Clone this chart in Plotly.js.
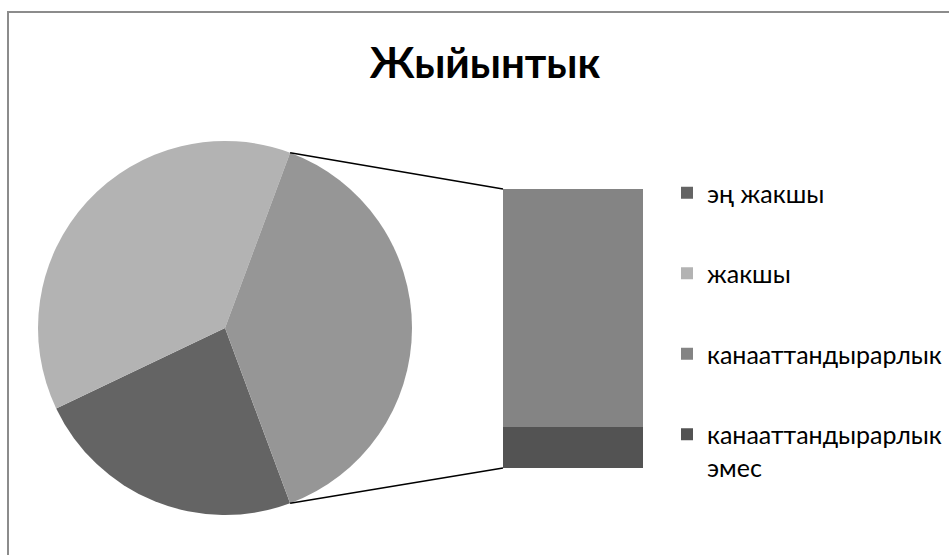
<!DOCTYPE html>
<html>
<head>
<meta charset="utf-8">
<script src="https://cdn.plot.ly/plotly-3.0.1.min.js"></script>
<style>
html,body{margin:0;padding:0;background:#fff;}
#chart{width:949px;height:555px;}
</style>
</head>
<body>
<div id="chart"></div>
<script>
// ---- data ----
const pieLabels = ['эң жакшы', 'жакшы'];
const pieValues = [25, 40];
const barLabels = ['канааттандырарлык', 'канааттандырарлык<br>эмес'];
const barValues = [35, 6];
const titleText = 'Жыйынтык';

// ---- styles ----
const pieColors = ['#646464', '#b3b3b3'];
const otherColor = '#969696';
const barColors = ['#848484', '#535353'];
const FONT = 'Lato, "Liberation Sans", sans-serif';

const W = 949, H = 555;
// layout geometry (pixels)
const pieBox = {x0: 38, x1: 412, y0: 141, y1: 515};
const barBox = {x0: 503, x1: 643, y0: 189, y1: 468};

const otherTotal = barValues.reduce((a, b) => a + b, 0);
const total = pieValues.reduce((a, b) => a + b, 0) + otherTotal;
const otherHalf = otherTotal / total * 180;   // half-angle of the "other" slice
const rotation = 90 + otherHalf;               // first slice starts right after "other"

const px = v => v / W;
const py = v => 1 - v / H;

const cx = (pieBox.x0 + pieBox.x1) / 2, cy = (pieBox.y0 + pieBox.y1) / 2;
const r = Math.min(pieBox.x1 - pieBox.x0, pieBox.y1 - pieBox.y0) / 2;
function edge(angDeg) {
  const a = angDeg * Math.PI / 180;
  return [cx + r * Math.sin(a), cy - r * Math.cos(a)];
}
const pTop = edge(90 - otherHalf);
const pBot = edge(90 + otherHalf);

const traces = [];
traces.push({
  type: 'pie',
  labels: pieLabels.concat(['other']),
  values: pieValues.concat([otherTotal]),
  marker: {colors: pieColors.concat([otherColor]), line: {width: 0}},
  sort: false,
  direction: 'clockwise',
  rotation: rotation,
  textinfo: 'none',
  hoverinfo: 'label+value',
  showlegend: false,
  domain: {x: [px(pieBox.x0), px(pieBox.x1)], y: [py(pieBox.y1), py(pieBox.y0)]}
});
// legend entries for pie categories (no drawn bar)
pieLabels.forEach((lab, i) => {
  traces.push({
    type: 'bar', x: [0], y: [null], name: lab,
    marker: {color: pieColors[i], line: {width: 0}},
    width: 1,
    legendgroup: 'p' + i, legendrank: i + 1,
    hoverinfo: 'skip',
    xaxis: 'x', yaxis: 'y'
  });
});
// stacked bar: bottom first
[1, 0].forEach(i => {
  traces.push({
    type: 'bar', x: [0], y: [barValues[i]], name: barLabels[i],
    marker: {color: barColors[i], line: {width: 0}},
    width: 1,
    legendgroup: 'b' + i, legendrank: 10 + i,
    hoverinfo: 'y',
    xaxis: 'x', yaxis: 'y'
  });
});

const lineStyle = {color: '#000', width: 1.6};
const layout = {
  width: W, height: H,
  margin: {l: 0, r: 0, t: 0, b: 0},
  paper_bgcolor: '#fff', plot_bgcolor: 'rgba(0,0,0,0)',
  font: {family: FONT, color: '#000'},
  title: {
    text: '<b>' + titleText + '</b>',
    font: {family: FONT, size: 42, color: '#000'},
    x: px(485), xref: 'paper', xanchor: 'center',
    y: py(63), yref: 'paper', yanchor: 'middle'
  },
  barmode: 'stack',
  bargap: 0,
  xaxis: {domain: [px(barBox.x0), px(barBox.x1)], range: [-0.5, 0.5], visible: false, fixedrange: true},
  yaxis: {domain: [py(barBox.y1), py(barBox.y0)], range: [0, otherTotal], visible: false, fixedrange: true},
  showlegend: true,
  legend: {
    x: px(667), xanchor: 'left',
    y: py(170), yanchor: 'top',
    traceorder: 'grouped',
    tracegroupgap: 45,
    valign: 'top',
    font: {family: FONT, size: 25, color: '#000'},
    bgcolor: 'rgba(0,0,0,0)'
  },
  shapes: [
    {type: 'line', xref: 'paper', yref: 'paper', x0: px(pTop[0]), y0: py(pTop[1]), x1: px(barBox.x0), y1: py(barBox.y0), line: lineStyle},
    {type: 'line', xref: 'paper', yref: 'paper', x0: px(pBot[0]), y0: py(pBot[1]), x1: px(barBox.x0), y1: py(barBox.y1), line: lineStyle},
    {type: 'rect', xref: 'paper', yref: 'paper', x0: px(8), y0: py(12), x1: px(990), y1: py(600), line: {color: '#8c8c8c', width: 2}, fillcolor: 'rgba(0,0,0,0)', layer: 'below'}
  ]
};

Plotly.newPlot('chart', traces, layout, {displayModeBar: false, staticPlot: true});
</script>
</body>
</html>
